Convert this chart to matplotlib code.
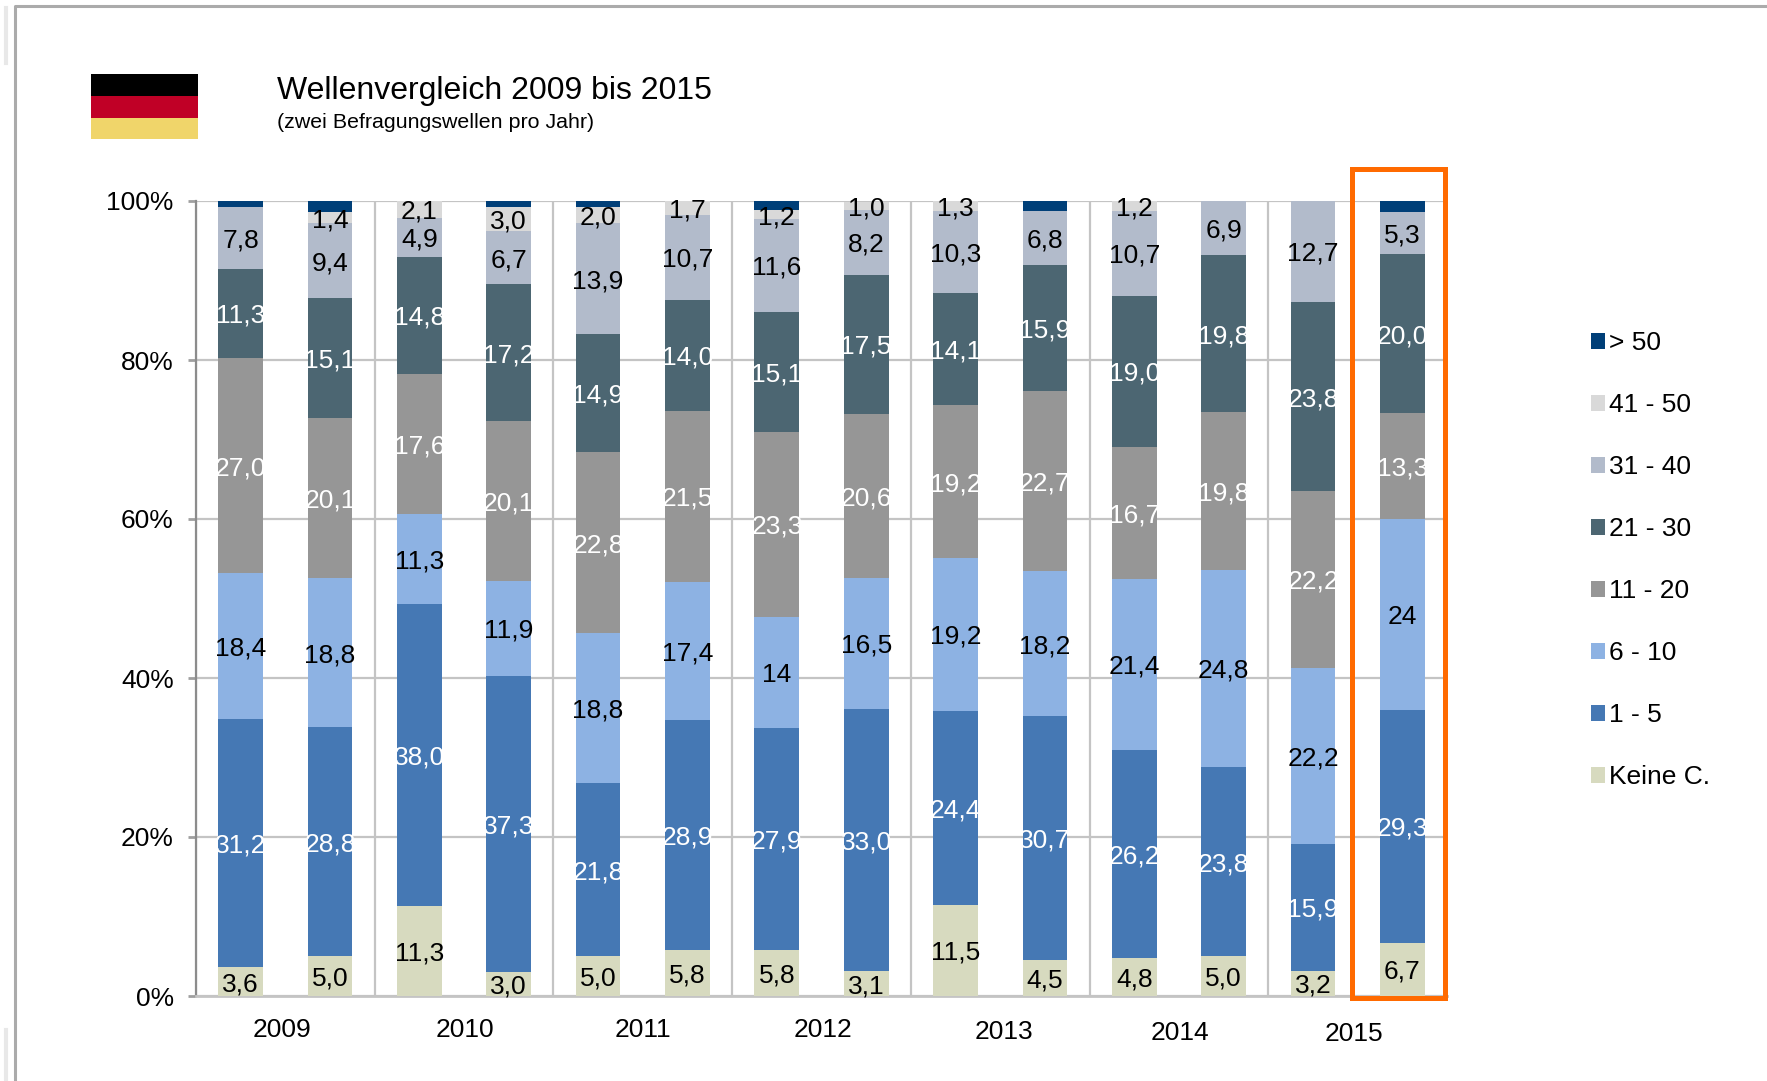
import matplotlib
matplotlib.use("Agg")
import matplotlib.pyplot as plt
from matplotlib.lines import Line2D
from matplotlib.patches import Rectangle

plt.rcParams['font.family'] = ['Liberation Sans', 'DejaVu Sans']

B, H = 1767, 1081

# Jahre und Werte (je zwei Wellen pro Jahr), int = Beschriftung ohne Nachkommastelle
jahre = ["2009", "2010", "2011", "2012", "2013", "2014", "2015"]
keine = [3.6, 5.0, 11.3, 3.0, 5.0, 5.8, 5.8, 3.1, 11.5, 4.5, 4.8, 5.0, 3.2, 6.7]
s1_5 = [31.2, 28.8, 38.0, 37.3, 21.8, 28.9, 27.9, 33.0, 24.4, 30.7, 26.2, 23.8, 15.9, 29.3]
s6_10 = [18.4, 18.8, 11.3, 11.9, 18.8, 17.4, 14, 16.5, 19.2, 18.2, 21.4, 24.8, 22.2, 24]
s11_20 = [27.0, 20.1, 17.6, 20.1, 22.8, 21.5, 23.3, 20.6, 19.2, 22.7, 16.7, 19.8, 22.2, 13.3]
s21_30 = [11.3, 15.1, 14.8, 17.2, 14.9, 14.0, 15.1, 17.5, 14.1, 15.9, 19.0, 19.8, 23.8, 20.0]
s31_40 = [7.8, 9.4, 4.9, 6.7, 13.9, 10.7, 11.6, 8.2, 10.3, 6.8, 10.7, 6.9, 12.7, 5.3]
s41_50 = [0, 1.4, 2.1, 3.0, 2.0, 1.7, 1.2, 1.0, 1.3, 0, 1.2, 0, 0, 0]
s50 = [0.7, 1.4, 0, 0.8, 0.8, 0, 1.1, 0, 0, 1.2, 0, 0, 0, 1.4]

reihen = [keine, s1_5, s6_10, s11_20, s21_30, s31_40, s41_50, s50]
namen = ["Keine C.", "1 - 5", "6 - 10", "11 - 20", "21 - 30", "31 - 40", "41 - 50", "> 50"]
farben = ["#D7DABF", "#4578B4", "#8DB2E3", "#969696", "#4C6672", "#B2BBCB", "#D9D9D9", "#003F78"]
textfarben = ["black", "white", "black", "white", "white", "black", "black", None]

# die Jahreszahlen stehen im Original nicht ganz auf einer Linie
jahr_dx = [-3, 1, 0, 2, 4, 1, -4]
jahr_y = [1030, 1030, 1030, 1030, 1032, 1033, 1034]

fig = plt.figure(figsize=(B / 100, H / 100), dpi=100)
ax = fig.add_axes([196 / B, 1 - 996 / H, (1447 - 196) / B, (996 - 201) / H])


def px_rect(x0, y0, x1, y1, farbe):
    fig.add_artist(Rectangle((x0 / B, 1 - y1 / H), (x1 - x0) / B, (y1 - y0) / H,
                             transform=fig.transFigure, facecolor=farbe, edgecolor='none'))


pos = [i + 0.5 for i in range(len(keine))]
unten = [0] * len(keine)
for werte, name, farbe, tf in zip(reihen, namen, farben, textfarben):
    ax.bar(pos, werte, width=0.5, bottom=unten, color=farbe, label=name, zorder=3)
    if tf:
        for x, v, u in zip(pos, werte, unten):
            if v > 0:
                ax.text(x, u + v / 2, str(v).replace('.', ','), color=tf, fontsize=19,
                        ha='center', va='center_baseline', zorder=5, clip_on=False)
    unten = [u + v for u, v in zip(unten, werte)]

ax.set_xlim(0, 14)
ax.set_ylim(0, 100)
ax.set_xticks(range(0, 15, 2))
ax.set_xticklabels([])
ax.set_yticks(range(0, 101, 20))
ax.set_yticklabels([f"{y}%" for y in range(0, 101, 20)], fontsize=19)
ax.tick_params(axis='y', length=6, width=2, color='#A0A0A0', pad=10)
ax.tick_params(axis='x', length=0)
ax.grid(True, color='#C4C4C4', linewidth=1.6, zorder=0)
ax.set_axisbelow(True)
for s in ['top', 'right']:
    ax.spines[s].set_visible(False)
ax.spines['left'].set_color('#8C8C8C')
ax.spines['left'].set_linewidth(1.6)
ax.spines['bottom'].set_color('#C4C4C4')
ax.spines['bottom'].set_linewidth(2)

for i, j in enumerate(jahre):
    fig.text((196 + 178.7 * (i + 0.5) + jahr_dx[i]) / B, 1 - jahr_y[i] / H, j,
             fontsize=19, ha='center', va='center')

handles, labels = ax.get_legend_handles_labels()
ax.legend(handles[::-1], labels[::-1], loc='upper left', bbox_to_anchor=(1583 / B, 1 - 323 / H),
          bbox_transform=fig.transFigure, frameon=False, fontsize=19, handlelength=0.55,
          handleheight=0.55, handletextpad=0.14, labelspacing=1.44, borderaxespad=0, borderpad=0.3)

# Titel
fig.text(277 / B, 1 - 91 / H, "Wellenvergleich 2009 bis 2015", fontsize=23, ha='left', va='center')
fig.text(277 / B, 1 - 122 / H, "(zwei Befragungswellen pro Jahr)", fontsize=15.4, ha='left', va='center')

# Flagge
px_rect(91, 74, 198, 96, 'black')
px_rect(91, 96, 198, 118, '#C00026')
px_rect(91, 118, 198, 139, '#F0D56A')

# Rahmen des Screenshots
fig.add_artist(Line2D([15 / B, 15 / B, 1], [0, 1 - 6 / H, 1 - 6 / H], color='#ABABAB', lw=2.2))
fig.add_artist(Line2D([6 / B, 6 / B], [1 - 8 / H, 1 - 63 / H], color='#E8E8E8', lw=3))
fig.add_artist(Line2D([6 / B, 6 / B], [1 - 1030 / H, 0], color='#E8E8E8', lw=3))

# orange Markierung 2015
fig.add_artist(Rectangle((1352 / B, 1 - 998 / H), 92.5 / B, 829 / H, transform=fig.transFigure,
                         facecolor='none', edgecolor='#FF6A00', linewidth=3.6, zorder=10))

fig.savefig("out.png", dpi=100)
